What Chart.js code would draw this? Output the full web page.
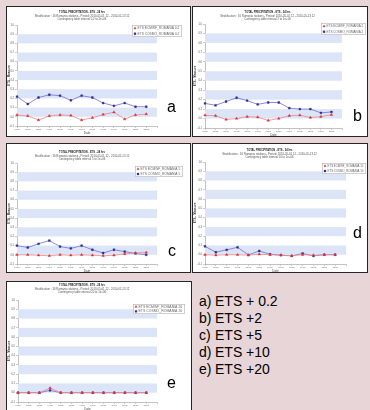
<!DOCTYPE html>
<html><head><meta charset="utf-8">
<script src="https://cdn.jsdelivr.net/npm/chart.js@4.4.1/dist/chart.umd.min.js"></script>
<style>
html,body{margin:0;padding:0}
body{width:370px;height:410px;background:#e8d5d7;position:relative;overflow:hidden;font-family:"Liberation Sans",Arial,sans-serif}
.panel{position:absolute;background:#fff;border:1px solid #262626;box-sizing:border-box;overflow:hidden}
.panel canvas{position:absolute;left:0;top:0}
.tag{position:absolute;font-size:16px;line-height:16px;color:#000}
#key{position:absolute;left:199px;top:292.5px;font-size:14px;line-height:17px;color:#000}
#key span{display:inline-block;width:16px}
</style></head><body>
<div id="key"></div>
<script>
// ---------- data ----------
const categories = ['01/05','02/05','03/05','04/05','05/05','06/05','07/05','08/05','09/05','10/05','11/05','12/05','13/05',''];
const yTicks = [-0.1,0,0.1,0.2,0.3,0.4,0.5,0.6,0.7,0.8,0.9,1.0];
const thresholds = ['0.2','2','5','10','20'];
const panelLetters = ['a','b','c','d','e'];
const keyLines = ['ETS + 0.2','ETS +2','ETS +5','ETS +10','ETS +20'];
const seriesNames = ['ETS ECMWF_ROMANIA','ETS COSMO_ROMANIA'];

const redA  = [0.02,0.01,-0.035,0.01,0.02,0.015,-0.035,-0.01,0.025,0.05,-0.025,0.02,0.03];
const blueA = [0.22,0.14,0.21,0.24,0.23,0.18,0.23,0.21,0.15,0.12,0.15,0.11,0.11];
const redB  = [0.035,0.03,-0.01,0.0,0.02,0.015,-0.02,0.0,0.03,0.035,0.01,0.02,0.04];
const blueB = [0.16,0.14,0.18,0.22,0.19,0.15,0.17,0.17,0.11,0.10,0.10,0.06,0.07];
const redC  = [0.0,0.0,-0.005,-0.01,0.0,-0.005,0.0,-0.005,-0.01,-0.005,0.01,0.02,0.025];
const blueC = [0.10,0.08,0.12,0.155,0.09,0.07,0.10,0.055,0.02,0.055,0.035,0.015,0.0];
const redD  = [0.0,-0.005,0.0,0.0,-0.005,0.005,0.0,-0.005,-0.01,0.0,-0.005,0.0,0.0];
const blueD = [0.09,0.027,0.053,0.08,-0.002,0.04,0.005,-0.005,-0.013,0.013,-0.013,0.0,0.0];
const redE  = [0.0,0.0,0.0,0.05,0.0,0.0,0.0,0.0,0.0,0.0,0.0,0.0,0.0];
const blueE = [0.0,0.0,0.0,0.025,0.0,0.0,0.0,0.0,0.0,0.0,0.0,0.0,0.0];
const redSeries = [redA,redB,redC,redD,redE];
const blueSeries = [blueA,blueB,blueC,blueD,blueE];

// ---------- layout (page coordinates) ----------
const layouts = [
  {box:[6,6,185,131],   plot:[17,157,25,126],   t1:12,  leg:[132,25,50,12],  tag:[167,98.5]},
  {box:[192,6,176,131], plot:[205,342,24,128],  t1:12,  leg:[321,23,45,12],  tag:[353,108]},
  {box:[6,143,185,130], plot:[17,157,163,264],  t1:152, leg:[135,166,48,11], tag:[168,243]},
  {box:[192,143,176,130],plot:[205,346,162,264],t1:150, leg:[322,163,44,11], tag:[353,224.8]},
  {box:[6,281,186,135], plot:[18,157,300,402],  t1:285, leg:[133,304,52,10], tag:[167,374.5]}
];

Chart.defaults.font.family = '"Liberation Sans", Arial, sans-serif';
Chart.defaults.color = '#444';

const mctx = document.createElement('canvas').getContext('2d');
function fitSize(text, weight, width){
  mctx.font = weight + ' 10px "Liberation Sans"';
  return 10 * width / mctx.measureText(text).width;
}

const bandsPlugin = {
  id:'bands',
  beforeDatasetsDraw(chart){
    const {ctx, chartArea:a, scales:{y}} = chart;
    ctx.save();
    for (let i=0;i<yTicks.length-1;i++){
      if (i%2===1) {
        const y0 = y.getPixelForValue(yTicks[i]), y1 = y.getPixelForValue(yTicks[i+1]);
        ctx.fillStyle = '#dce4f8';
        ctx.fillRect(a.left, y1, a.right-a.left, y0-y1);
      }
    }
    ctx.restore();
  }
};

const boxLegend = {
  id:'boxLegend',
  afterDraw(chart, args, opts){
    const {ctx} = chart; const g = opts.rect;
    ctx.save();
    ctx.fillStyle='#fff'; ctx.fillRect(g[0],g[1],g[2],g[3]);
    ctx.strokeStyle='#b0b0b0'; ctx.lineWidth=0.6; ctx.strokeRect(g[0]+0.3,g[1]+0.3,g[2]-0.6,g[3]-0.6);
    chart.data.datasets.forEach((ds,i)=>{
      const y = g[1] + g[3]*(0.27 + 0.46*i);
      ctx.fillStyle = ds.pointBackgroundColor; ctx.strokeStyle = ds.pointBorderColor;
      ctx.lineWidth = 0.4;
      Chart.helpers.drawPoint(ctx,{pointStyle:ds.pointStyle, radius:1.3, borderWidth:0.4, rotation:0}, g[0]+3, y);
      ctx.fillStyle='#666';
      ctx.font = opts.size + 'px "Liberation Sans"';
      ctx.textBaseline='middle'; ctx.textAlign='left';
      ctx.fillText(ds.label, g[0]+5.5, y);
    });
    ctx.restore();
  }
};

// key text
const key = document.getElementById('key');
keyLines.forEach((t,i)=>{
  const d=document.createElement('div');
  const s=document.createElement('span'); s.textContent=panelLetters[i]+')';
  d.appendChild(s); d.appendChild(document.createTextNode(t));
  key.appendChild(d);
});

const title1 = 'TOTAL PRECIPITATION - ETS - 24 hrs';
layouts.forEach((p,i)=>{
  const div=document.createElement('div'); div.className='panel';
  Object.assign(div.style,{left:p.box[0]+'px',top:p.box[1]+'px',width:p.box[2]+'px',height:p.box[3]+'px'});
  document.body.appendChild(div);
  const cx=p.box[0]+1, cy=p.box[1]+1, cw=p.box[2]-2, ch=p.box[3]-2;
  const cv=document.createElement('canvas'); cv.width=cw; cv.height=ch;
  cv.style.width=cw+'px'; cv.style.height=ch+'px';
  div.appendChild(cv);

  const tag=document.createElement('div'); tag.className='tag'; tag.textContent=panelLetters[i];
  tag.style.left=p.tag[0]+'px'; tag.style.top=p.tag[1]+'px';
  document.body.appendChild(tag);

  const thr = thresholds[i];
  const sub2 = 'Stratification : 16 Romania stations - Period: 2010-05-01 12 - 2010-05-13 12';
  const sub3 = 'Contingency table interval '+thr+' to 1e+06';
  const lh = 3.8;
  const f1 = fitSize(title1,'bold',46);
  const f2 = fitSize(sub2,'',95);
  const tPadTop = p.t1 - lh/2 - cy;
  const sPadBot = p.plot[2] - cy - tPadTop - 3*lh;
  const yW = p.plot[0]-cx, xH = (cy+ch)-p.plot[3], padR = (cx+cw)-p.plot[1];
  const xTitleY = p.plot[3] + 7;
  const labels = seriesNames.map(n=>n+' '+thr);
  const legSize = fitSize(labels[0],'',p.leg[2]-8);

  new Chart(cv,{
    type:'line',
    data:{
      labels:categories,
      datasets:[
        {label:labels[0], data:redSeries[i], borderColor:'#e58a8a', borderWidth:0.8,
         pointStyle:'triangle', pointRadius:1.5, pointBackgroundColor:'#e03030', pointBorderColor:'#e03030', pointBorderWidth:0.4, tension:0},
        {label:labels[1], data:blueSeries[i], borderColor:'#6f6fd6', borderWidth:0.8,
         pointStyle:'rect', pointRadius:1.3, pointBackgroundColor:'#2b2b8f', pointBorderColor:'#2b2b8f', pointBorderWidth:0.4, tension:0}
      ]
    },
    options:{
      responsive:false, animation:false, devicePixelRatio:1,
      layout:{padding:{left:0,right:padR,top:0,bottom:0}},
      plugins:{
        legend:{display:false}, tooltip:{enabled:false},
        title:{display:true, text:title1, color:'#222', font:{size:f1, weight:'bold', lineHeight:lh+'px'}, padding:{top:tPadTop,bottom:0}},
        subtitle:{display:true, text:[sub2,sub3], color:'#555', font:{size:f2, lineHeight:lh+'px'}, padding:{top:0,bottom:sPadBot}},
        boxLegend:{rect:[p.leg[0]-cx,p.leg[1]-cy,p.leg[2],p.leg[3]], size:legSize}
      },
      scales:{
        x:{type:'category', offset:false,
           grid:{drawOnChartArea:false, drawTicks:true, tickLength:2, color:'#999', lineWidth:0.5},
           border:{display:true,color:'#999',width:0.6},
           ticks:{font:{size:2.2}, color:'#666', maxRotation:0, autoSkip:false, padding:0.5},
           title:{display:true, text:'Date', color:'#444', font:{size:3, lineHeight:1}, padding:{top:0,bottom:(cy+ch)-xTitleY-1.5}},
           afterFit(s){ s.height = xH; }},
        y:{min:-0.1, max:1.0,
           grid:{drawOnChartArea:false, drawTicks:true, tickLength:2, color:'#999', lineWidth:0.5},
           border:{display:true,color:'#999',width:0.6},
           ticks:{font:{size:2.6}, color:'#555', padding:1, callback:v=>Number(v).toFixed(1)},
           afterBuildTicks(s){ s.ticks = yTicks.map(v=>({value:v})); },
           title:{display:true, text:'ETS - Measure', color:'#333', font:{size:3, weight:'bold', lineHeight:1}, padding:{top:0.5,bottom:0}},
           afterFit(s){ s.width = yW; }}
      }
    },
    plugins:[bandsPlugin, boxLegend]
  });
});
</script>
</body></html>
